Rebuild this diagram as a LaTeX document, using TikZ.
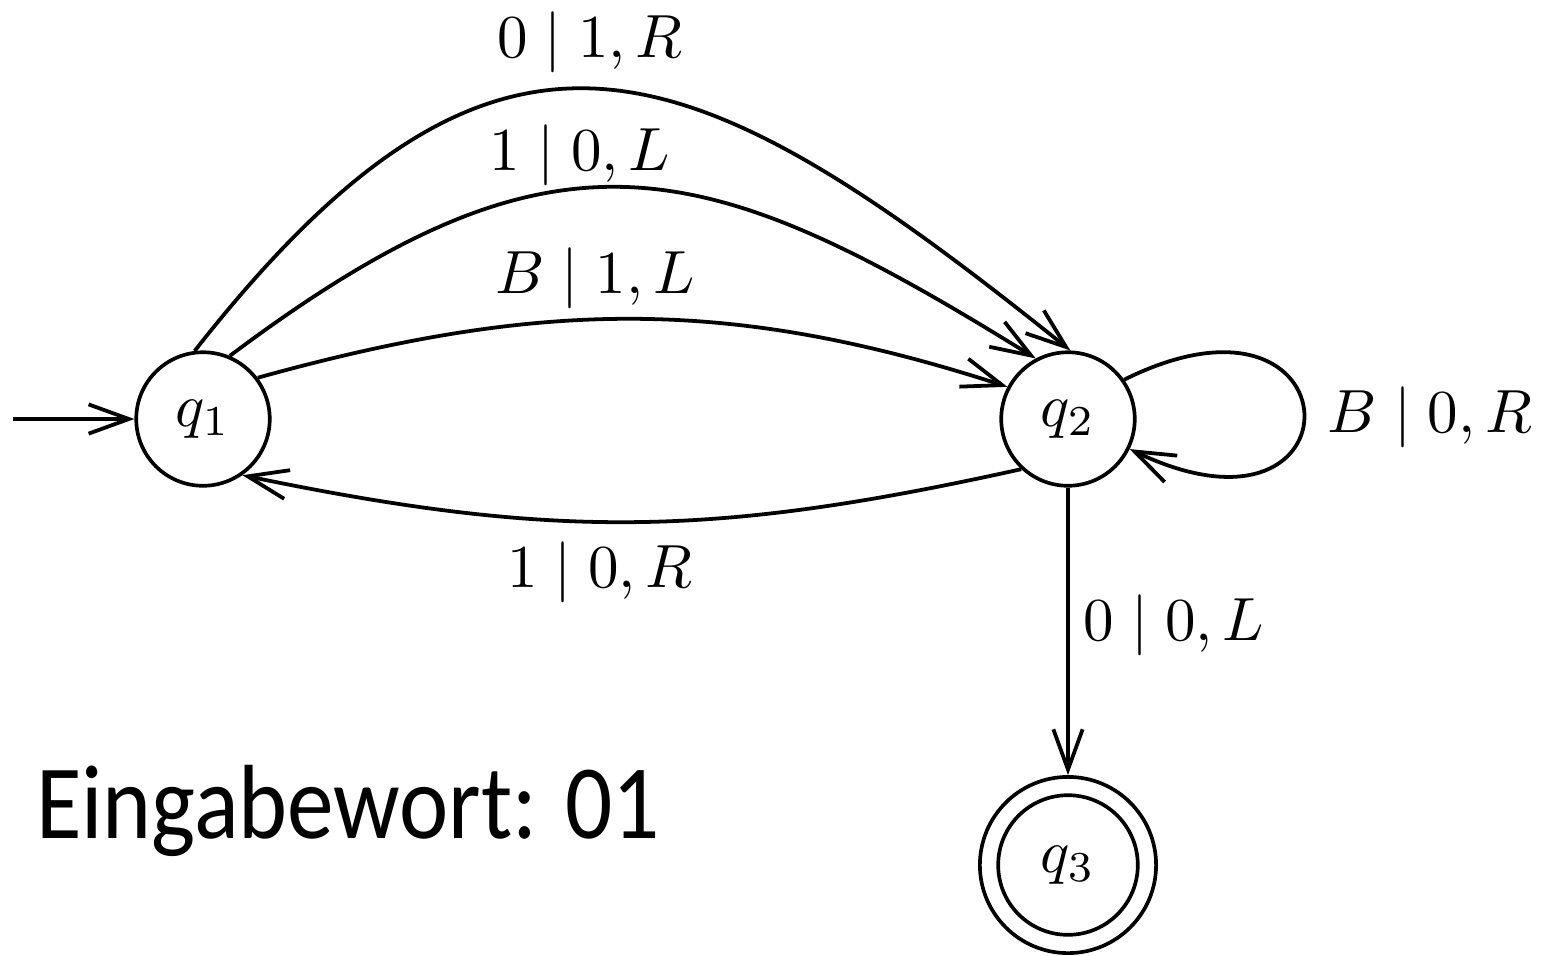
\documentclass[tikz,border=0pt]{standalone}
\usepackage{fontspec}
\newfontfamily\eingabefont{Carlito}
\usetikzlibrary{arrows.meta}
\begin{document}
\begin{tikzpicture}[x=0.164pt,y=-0.164pt,
  state/.style={circle,draw,line width=0.6pt,minimum size=21.9pt,inner sep=0pt},
  final/.style={circle,draw,line width=0.6pt,minimum size=28.9pt,inner sep=0pt},
  inner/.style={circle,draw,line width=0.6pt,minimum size=22.9pt,inner sep=0pt},
  edge/.style={line width=0.62pt,-{Straight Barb[length=6.6pt,width=4.8pt]}},
  lbl/.style={anchor=base,inner sep=0pt}]
\useasboundingbox (0,0) rectangle (1551,955);
\node[state] (q1) at (203,419) {$q_1$};
\node[state] (q2) at (1068,419) {$q_2$};
\node[final] (q3) at (1068,865) {$q_3$};
\node[inner] (q3in) at (q3.center) {};
\coordinate (start) at (13,419);
% initial
\draw[edge] (start) -- (q1);
% q1 -> q2 upper three
\draw[edge] (q1.97) .. controls (499,-37) and (686,42) .. (q2.88);
\draw[edge] (q1.67) .. controls (555,112) and (700,150) .. (q2.118);
\draw[edge] (q1.37) .. controls (541,299) and (730,297) .. (q2.152);
% q2 -> q1 lower
\draw[edge] (q2.227) .. controls (715,537) and (555,540) .. (q1.-55);
% loop
\draw[edge] (q2.35) .. controls (1359,263) and (1366,562) .. (q2.-26);
% q2 -> q3
\draw[edge] (q2) -- (q3);
% labels
\node[lbl] (l1) at (590,57) {$0 \mid 1, R$};
\node[lbl] (l2) at (580,170) {$1 \mid 0, L$};
\node[lbl] (l3) at (595,293) {$B \mid 1, L$};
\node[lbl] (l4) at (600,587) {$1 \mid 0, R$};
\node[lbl] (l5) at (1430,432) {$B \mid 0, R$};
\node[lbl] (l6) at (1174,640) {$0 \mid 0, L$};
\node[anchor=base west,inner sep=0pt,xscale=0.884,font=\eingabefont\fontsize{17.3}{20}\selectfont] (eingabe) at (35,838) {Eingabewort: 01};
\end{tikzpicture}
\end{document}
